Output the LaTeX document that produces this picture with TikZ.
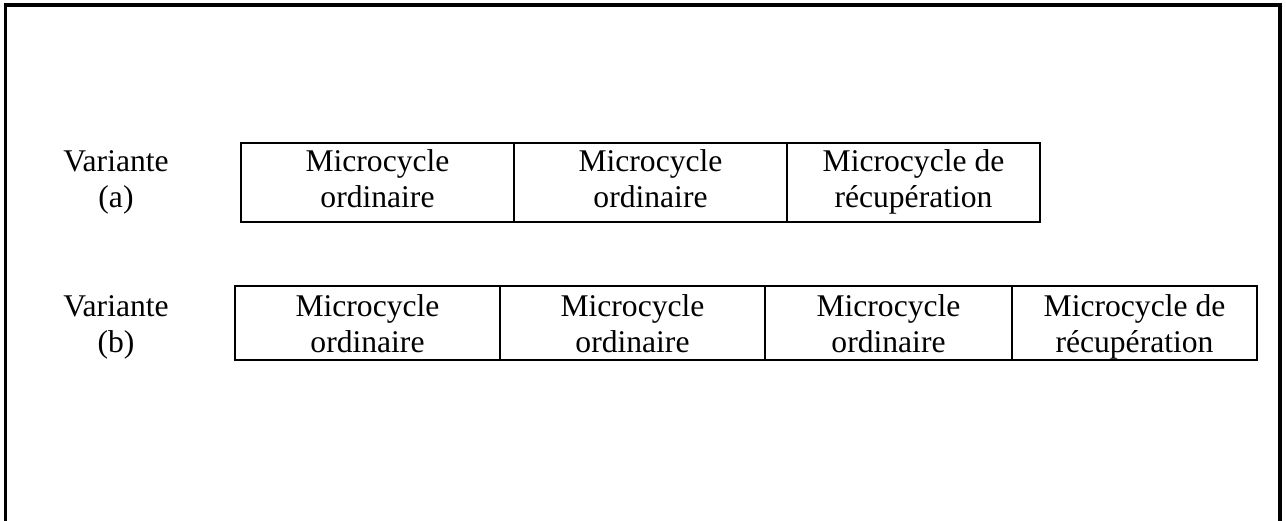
\documentclass[tikz,border=0pt]{standalone}
\usepackage{fontspec}
\setmainfont{Liberation Serif}
\begin{document}
\begin{tikzpicture}[x=0.75pt,y=-0.75pt,
  cell/.style={draw, line width=1.5pt, inner sep=0pt, outer sep=0pt},
  txt/.style={inner sep=0pt, align=center, font=\fontsize{23.7}{27}\selectfont}]
\useasboundingbox (0,0) rectangle (1286,521);
% open frame (its lower edge lies below the page)
\draw[line width=2.4pt] (5.5,540) -- (5.5,5) -- (1280,5) -- (1280,540);

% variant (a): three microcycles
\node[cell, minimum width=204.75pt, minimum height=59.25pt] (a1) at (377.5,182.5) {};
\node[cell, minimum width=204.75pt, minimum height=59.25pt] (a2) at (650.5,182.5) {};
\node[cell, minimum width=189.75pt, minimum height=59.25pt] (a3) at (913.5,182.5) {};
\node[txt] (va) at (116,182.5) {\strut Variante\\\strut (a)};
\node[txt] (ta1) at (a1.center) {\strut Microcycle\\\strut ordinaire};
\node[txt] (ta2) at (a2.center) {\strut Microcycle\\\strut ordinaire};
\node[txt] (ta3) at (a3.center) {\strut Microcycle de\\\strut récupération};

% variant (b): four microcycles
\node[cell, minimum width=198.75pt, minimum height=55.5pt] (b1) at (367.5,323) {};
\node[cell, minimum width=198.75pt, minimum height=55.5pt] (b2) at (632.5,323) {};
\node[cell, minimum width=185.25pt, minimum height=55.5pt] (b3) at (888.5,323) {};
\node[cell, minimum width=183.75pt, minimum height=55.5pt] (b4) at (1134.5,323) {};
\node[txt] (vb) at (116,327) {\strut Variante\\\strut (b)};
\node[txt, yshift=-3pt] (tb1) at (b1.center) {\strut Microcycle\\\strut ordinaire};
\node[txt, yshift=-3pt] (tb2) at (b2.center) {\strut Microcycle\\\strut ordinaire};
\node[txt, yshift=-3pt] (tb3) at (b3.center) {\strut Microcycle\\\strut ordinaire};
\node[txt, yshift=-3pt] (tb4) at (b4.center) {\strut Microcycle de\\\strut récupération};
\end{tikzpicture}
\end{document}
